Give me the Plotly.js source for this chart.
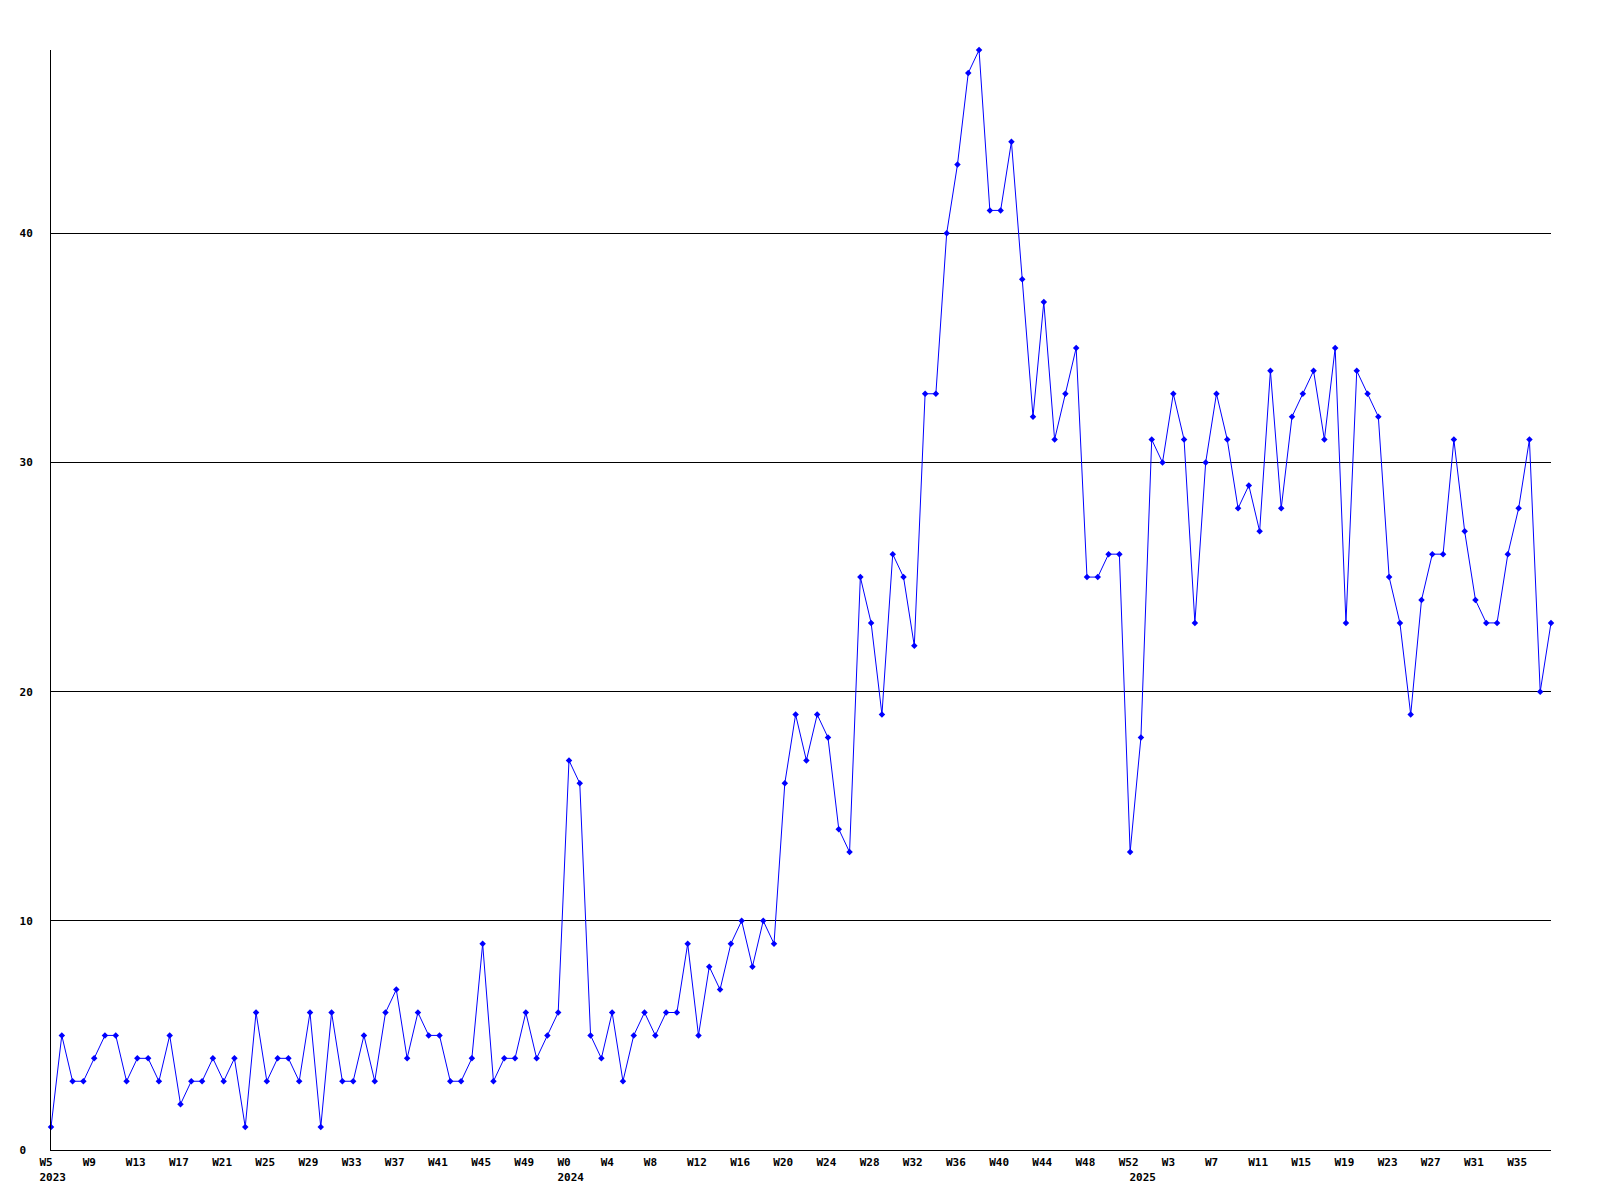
<!DOCTYPE html>
<html>
<head>
<meta charset="utf-8">
<script src="https://cdn.plot.ly/plotly-3.0.1.min.js"></script>
<style>
  html, body { margin: 0; padding: 0; background: #ffffff; }
  #chart { width: 1600px; height: 1200px; }
</style>
</head>
<body>
<div id="chart"></div>
<script>
// Weekly counts
const start2023 = 5;   // first week shown in 2023
const values2023 = [1,5,3,3,4,5,5,3,4,4,3,5,2,3,3,4,3,4,1,6,3,4,4,3,6,1,6,3,3,5,3,6,7,4,6,5,5,3,3,4,9,3,4,4,6,4,5,6];
const start2024 = 0;
const values2024 = [17,16,5,4,6,3,5,6,5,6,6,9,5,8,7,9,10,8,10,9,16,19,17,19,18,14,13,25,23,19,26,25,22,33,33,40,43,47,48,41,41,44,38,32,37,31,33,35,25,25,26,26,13];
const start2025 = 0;
const values2025 = [18,31,30,33,31,23,30,33,31,28,29,27,34,28,32,33,34,31,35,23,34,33,32,25,23,19,24,26,26,31,27,24,23,23,26,28,31,20,23];
const yTicks = [0, 10, 20, 30, 40];

// Build category list from the yearly series
const series = [
  {year: 2023, start: start2023, values: values2023},
  {year: 2024, start: start2024, values: values2024},
  {year: 2025, start: start2025, values: values2025}
];
const cats = [], vals = [], weekLabels = [], yearStarts = {};
series.forEach(s => {
  s.values.forEach((v, i) => {
    const key = s.year + "-W" + (s.start + i);
    if (i === 0) yearStarts[key] = String(s.year);
    cats.push(key);
    vals.push(v);
    weekLabels.push("W" + (s.start + i));
  });
});

// Tick labels: every 4th week, plus year labels at the first week of each year
const tickvals = [], ticktext = [];
cats.forEach((c, i) => {
  const isWeekTick = i % 4 === 0;
  const yr = yearStarts[c];
  if (isWeekTick || yr) {
    tickvals.push(c);
    const first = isWeekTick ? weekLabels[i] : "\u00a0";
    ticktext.push(yr ? first + "<br>" + yr : first);
  }
});

const font = {family: "DejaVu Sans Mono, monospace", size: 11, color: "#000000", weight: "bold"};

const trace = {
  x: cats,
  y: vals,
  type: "scatter",
  mode: "lines+markers",
  line: {color: "#0000ff", width: 1},
  marker: {color: "#0000ff", symbol: "diamond", size: 5, line: {width: 0}},
  cliponaxis: false,
  hoverinfo: "x+y"
};

const layout = {
  width: 1600,
  height: 1200,
  paper_bgcolor: "#ffffff",
  plot_bgcolor: "#ffffff",
  showlegend: false,
  margin: {l: 51, r: 49, t: 50, b: 50, pad: 0},
  font: font,
  xaxis: {
    type: "category",
    range: [0, cats.length - 1],
    tickmode: "array",
    tickvals: tickvals,
    ticktext: ticktext,
    tickangle: 0,
    ticks: "",
    showgrid: false,
    zeroline: false,
    showline: true,
    linecolor: "#000000",
    linewidth: 1,
    tickfont: font,
    ticklabelposition: "outside right",
    ticklabelshift: -12,
    ticklabelstandoff: 2
  },
  yaxis: {
    range: [0, 48],
    tickmode: "array",
    tickvals: yTicks,
    ticktext: yTicks.map(v => String(v).padEnd(2, "\u00a0")),
    ticks: "",
    showgrid: true,
    gridcolor: "#000000",
    gridwidth: 1,
    zeroline: false,
    showline: true,
    linecolor: "#000000",
    linewidth: 1,
    tickfont: font,
    ticklabelstandoff: 15
  }
};

Plotly.newPlot("chart", [trace], layout, {staticPlot: true, displayModeBar: false});
</script>
</body>
</html>
